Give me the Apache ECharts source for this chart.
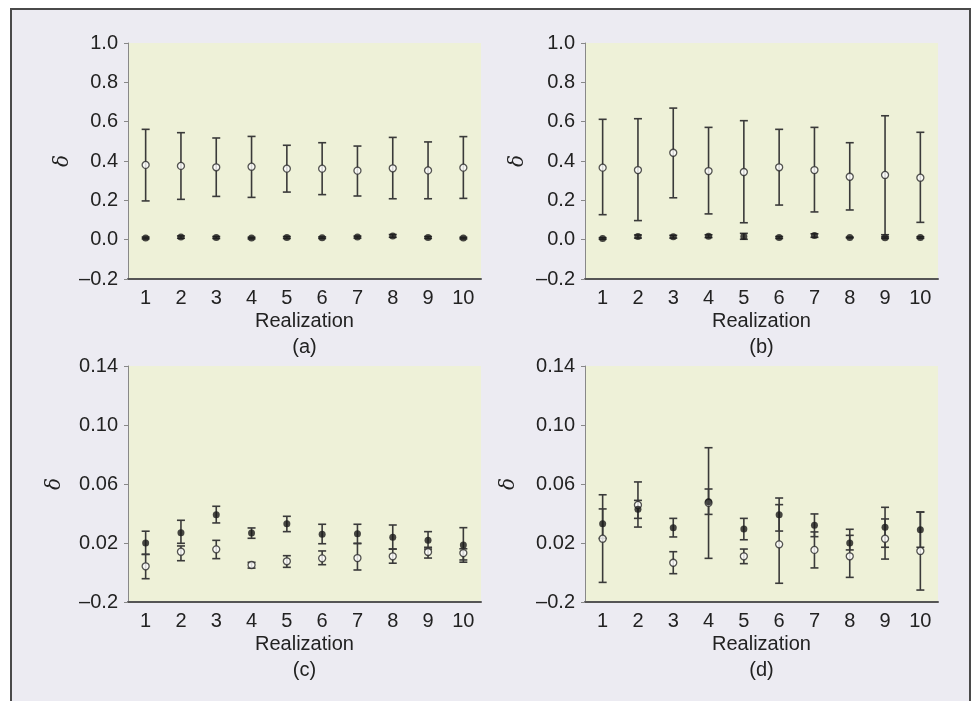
<!DOCTYPE html>
<html>
<head>
<meta charset="utf-8">
<script src="https://cdn.jsdelivr.net/npm/echarts@6/dist/echarts.min.js"></script>
<style>
body{margin:0;background:#fff;}
#frame{position:absolute;left:10px;top:8px;width:957px;height:720px;background:#ecebf2;
  border-left:2px solid #4a4a4a;border-top:2px solid #4a4a4a;border-right:2px solid #4a4a4a;}
#chart{position:absolute;left:0;top:0;width:978px;height:701px;}
</style>
</head>
<body>
<div id="frame"></div>
<div id="chart"></div>
<script>
// x categories
const realizations = ['1','2','3','4','5','6','7','8','9','10']

// panel (a)
const aOpenMean = [0.380,0.375,0.368,0.371,0.361,0.361,0.351,0.363,0.352,0.366]
const aOpenHigh = [0.561,0.544,0.517,0.525,0.480,0.493,0.476,0.520,0.497,0.524]
const aOpenLow  = [0.197,0.205,0.220,0.215,0.242,0.229,0.222,0.208,0.208,0.210]
const aFillMean = [0.008,0.013,0.011,0.008,0.011,0.010,0.013,0.019,0.011,0.008]
const aFillHigh = [0.013,0.019,0.016,0.012,0.016,0.014,0.018,0.026,0.016,0.012]
const aFillLow  = [0.004,0.007,0.006,0.004,0.006,0.006,0.008,0.012,0.006,0.004]

// panel (b)
const bOpenMean = [0.366,0.354,0.442,0.349,0.344,0.368,0.354,0.320,0.329,0.315]
const bOpenHigh = [0.612,0.615,0.669,0.571,0.605,0.561,0.571,0.493,0.630,0.546]
const bOpenLow  = [0.127,0.097,0.213,0.131,0.086,0.176,0.141,0.151,0.025,0.088]
const bFillMean = [0.006,0.016,0.015,0.018,0.016,0.011,0.021,0.011,0.010,0.011]
const bFillHigh = [0.010,0.024,0.022,0.025,0.032,0.016,0.030,0.013,0.014,0.015]
const bFillLow  = [0.002,0.008,0.008,0.011,0.002,0.006,0.012,0.009,0.006,0.007]

// panel (c)
const cOpenMean = [0.0042,0.0141,0.0157,0.0051,0.0076,0.0096,0.0098,0.0110,0.0139,0.0132]
const cOpenHigh = [0.0123,0.0180,0.0218,0.0069,0.0114,0.0146,0.0198,0.0159,0.0159,0.0161]
const cOpenLow  = [-0.0042,0.0080,0.0094,0.0030,0.0035,0.0053,0.0017,0.0063,0.0098,0.0085]
const cFillMean = [0.0200,0.0270,0.0392,0.0268,0.0331,0.0259,0.0263,0.0239,0.0218,0.0186]
const cFillHigh = [0.0280,0.0354,0.0449,0.0302,0.0381,0.0327,0.0327,0.0322,0.0277,0.0304]
const cFillLow  = [0.0123,0.0198,0.0336,0.0232,0.0277,0.0195,0.0196,0.0159,0.0171,0.0070]

// panel (d)
const dOpenMean = [0.0229,0.0458,0.0066,0.0473,0.0110,0.0191,0.0153,0.0110,0.0229,0.0146]
const dOpenHigh = [0.0527,0.0614,0.0141,0.0846,0.0159,0.0505,0.0275,0.0252,0.0363,0.0410]
const dOpenLow  = [-0.0067,0.0308,-0.0008,0.0096,0.0060,-0.0073,0.0031,-0.0033,0.0091,-0.0119]
const dFillMean = [0.0331,0.0429,0.0304,0.0480,0.0295,0.0392,0.0320,0.0200,0.0306,0.0290]
const dFillHigh = [0.0431,0.0489,0.0367,0.0566,0.0367,0.0460,0.0397,0.0293,0.0442,0.0410]
const dFillLow  = [0.0231,0.0367,0.0241,0.0394,0.0222,0.0281,0.0243,0.0153,0.0171,0.0171]

// y axis ranges / tick labels
const topTicks = {min:-0.2, max:1.0, interval:0.2}
const bottomTicks = {min:-0.02, max:0.14, interval:0.04}
const panelLetters = ['(a)','(b)','(c)','(d)']

const myChart = echarts.init(document.getElementById('chart'))
const font = 'Liberation Sans, Arial, sans-serif'

const panels = [
    {grid:{left:128,top:43}, ticks:topTicks, nameGap:55, open:[aOpenMean,aOpenLow,aOpenHigh], fill:[aFillMean,aFillLow,aFillHigh]},
    {grid:{left:585,top:43}, ticks:topTicks, nameGap:57, open:[bOpenMean,bOpenLow,bOpenHigh], fill:[bFillMean,bFillLow,bFillHigh]},
    {grid:{left:128,top:366}, ticks:bottomTicks, nameGap:63, open:[cOpenMean,cOpenLow,cOpenHigh], fill:[cFillMean,cFillLow,cFillHigh]},
    {grid:{left:585,top:366}, ticks:bottomTicks, nameGap:66, open:[dOpenMean,dOpenLow,dOpenHigh], fill:[dFillMean,dFillLow,dFillHigh]},
]

function errorBars(api){
    const x = api.value(0)
    const top = api.coord([x, api.value(2)])
    const bot = api.coord([x, api.value(1)])
    const w = 4
    const style = {stroke:'#3a3a3a', lineWidth:1.6}
    return {
        type:'group',
        children:[
            {type:'line', shape:{x1:top[0],y1:top[1],x2:bot[0],y2:bot[1]}, style:style},
            {type:'line', shape:{x1:top[0]-w,y1:top[1],x2:top[0]+w,y2:top[1]}, style:style},
            {type:'line', shape:{x1:bot[0]-w,y1:bot[1],x2:bot[0]+w,y2:bot[1]}, style:style},
        ]
    }
}

const grid = [], xAxis = [], yAxis = [], series = []
panels.forEach((p, i) => {
    grid.push({left:p.grid.left, top:p.grid.top, width:353, height:236, show:true,
        backgroundColor:'#eef1d8', borderWidth:0})
    xAxis.push({
        type:'category', gridIndex:i, data:realizations,
        name:'Realization\n' + panelLetters[i], nameLocation:'middle', nameGap:28,
        nameTextStyle:{fontFamily:font, fontSize:20, color:'#222', lineHeight:26},
        axisLine:{onZero:false, lineStyle:{color:'#555', width:2}},
        axisTick:{alignWithLabel:true, length:4, lineStyle:{color:'#555'}},
        axisLabel:{fontFamily:font, fontSize:20, color:'#222', margin:9},
        splitLine:{show:false}
    })
    yAxis.push({
        type:'value', gridIndex:i, min:p.ticks.min, max:p.ticks.max, interval:p.ticks.interval,
        name:'\u03b4', nameLocation:'middle', nameGap:p.nameGap, nameRotate:90,
        nameTextStyle:{fontFamily:'DejaVu Serif, serif', fontStyle:'italic', fontSize:20, color:'#222'},
        axisLine:{show:true, lineStyle:{color:'#888', width:1}},
        axisTick:{show:true, length:4, lineStyle:{color:'#888'}},
        axisLabel:{fontFamily:font, fontSize:20, color:'#222', margin:10,
            formatter: v => v < 0 ? '\u20130.2' : (p.ticks.interval < 0.1 ? v.toFixed(2) : v.toFixed(1))},
        splitLine:{show:false}
    })
    const toBars = arr => realizations.map((c, k) => [k, arr[1][k], arr[2][k]])
    series.push({type:'custom', xAxisIndex:i, yAxisIndex:i, renderItem:(params, api) => errorBars(api),
        data:toBars(p.open), z:2, silent:true})
    series.push({type:'custom', xAxisIndex:i, yAxisIndex:i, renderItem:(params, api) => errorBars(api),
        data:toBars(p.fill), z:2, silent:true})
    series.push({type:'scatter', xAxisIndex:i, yAxisIndex:i, data:p.open[0], symbol:'circle', symbolSize:7,
        itemStyle:{color:'#fff', borderColor:'#2a2a2a', borderWidth:1.3}, z:4})
    series.push({type:'scatter', xAxisIndex:i, yAxisIndex:i, data:p.fill[0], symbol:'circle', symbolSize:7,
        itemStyle:{color:'#1a1a1a'}, z:5})
})

const option = {
    animation:false,
    grid:grid,
    xAxis:xAxis,
    yAxis:yAxis,
    series:series
}
option && myChart.setOption(option)
</script>
</body>
</html>
